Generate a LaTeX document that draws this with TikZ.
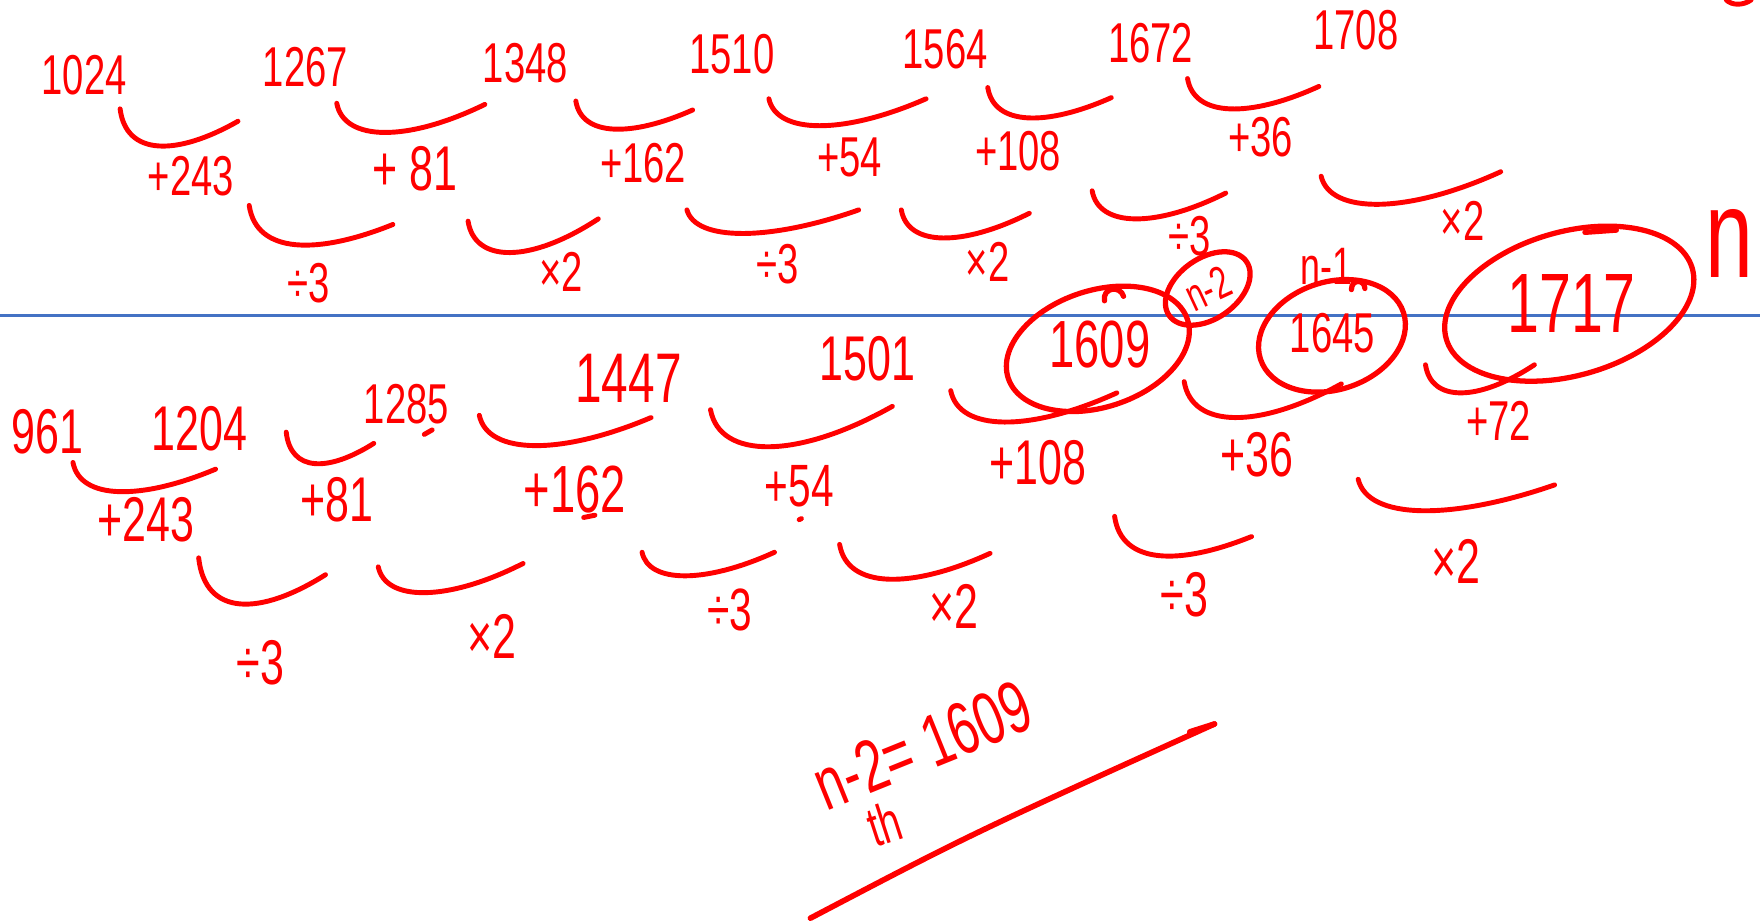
\documentclass[tikz,border=0pt]{standalone}
\usepackage{fontspec}
\usepackage{xcolor}
\usetikzlibrary{positioning}
\newfontfamily\hand[FakeStretch=0.68]{Liberation Sans}
\definecolor{pen}{HTML}{FF0000}
\definecolor{ruleblue}{HTML}{4472C4}
\tikzset{
  stroke/.style={draw=pen,line width=1.4pt,line cap=round,line join=round},
  num/.style={text=pen,inner sep=0pt,font=\hand\fontsize{#1}{#1}\selectfont},
  num/.default=16,
  ring/.style={stroke,line width=1.5pt},
  baseline rule/.style={draw=ruleblue,line width=0.7pt}
}
% one hand-drawn cup: x1 y1 x2 y2 lowest-y
\newcommand\swoop[5]{%
  \pgfmathsetmacro\cupy{#5+(#5-(#2+#4)/2)/3}%
  \pgfmathsetmacro\cupa{#1+0.05*(#3-#1)}%
  \pgfmathsetmacro\cupb{#1+0.48*(#3-#1)}%
  \draw[stroke] (#1,#2) .. controls (\cupa,\cupy) and (\cupb,\cupy) .. (#3,#4);}

\begin{document}
\begin{tikzpicture}[x=0.011224cm,y=-0.011224cm]
    \path[use as bounding box] (0,0) rectangle (1568,821);
    \draw[baseline rule] (0,281) -- (1568,281);

    % upper sequence
    \node[num] (u1024) at (75,67) {1024};
    \node[num] (u1267) at (272,60) {1267};
    \node[num] (u1348) at (468,56) {1348};
    \node[num] (u1510) at (652,48) {1510};
    \node[num] (u1564) at (842,44) {1564};
    \node[num] (u1672) at (1025,38) {1672};
    \node[num] (u1708) at (1208,27) {1708};
    \swoop{107}{97}{212}{108}{130}
    \swoop{300}{92}{432}{93}{118}
    \swoop{513}{90}{617}{98}{115}
    \swoop{685}{88}{825}{88}{112}
    \swoop{880}{78}{990}{87}{105}
    \swoop{1058}{70}{1175}{77}{97}
    \node[num] (ud1) at (170,157) {+243};
    \node[num=18] (ud2) at (370,150) {+ 81};
    \node[num] (ud3) at (573,145) {+162};
    \node[num] (ud4) at (757,140) {+54};
    \node[num] (ud5) at (907,135) {+108};
    \node[num] (ud6) at (1123,122) {+36};
    \swoop{222}{183}{350}{200}{218}
    \swoop{417}{197}{533}{195}{225}
    \swoop{612}{187}{765}{187}{208}
    \swoop{803}{187}{917}{190}{212}
    \swoop{973}{170}{1092}{172}{195}
    \swoop{1177}{157}{1337}{153}{182}
    \node[num] (uo1) at (275,252) {÷3};
    \node[num] (uo2) at (500,242) {×2};
    \node[num] (uo3) at (693,235) {÷3};
    \node[num] (uo4) at (880,233) {×2};
    \node[num] (uo5) at (1060,210) {÷3};
    \node[num] (uo6) at (1303,197) {×2};

    % lower sequence
    \node[num=18] (l961) at (42,385) {961};
    \node[num=18] (l1204) at (178,382) {1204};
    \node[num] (l1285) at (362,360) {1285};
    \node[num=20] (l1447) at (560,337) {1447};
    \node[num=18] (l1501) at (773,320) {1501};
    \node[num=19] (l1609) at (980,307) {1609};
    \node[num] (l1645) at (1187,297) {1645};
    \node[num=24] (l1717) at (1400,270) {1717};
    \draw[stroke] (378,387) -- (385,383);
    \draw[stroke] (520,461) -- (530,459);
    \draw[stroke] (712,463) -- (714,462);
    \swoop{65}{412}{192}{418}{438}
    \swoop{255}{385}{333}{395}{413}
    \swoop{427}{370}{580}{372}{397}
    \swoop{633}{365}{795}{362}{398}
    \swoop{847}{348}{995}{350}{376}
    \swoop{1055}{340}{1195}{342}{372}
    \swoop{1270}{325}{1367}{325}{350}
    \node[num=18] (ld1) at (130,463) {+243};
    \node[num=18] (ld2) at (300,445) {+81};
    \node[num=19] (ld3) at (512,436) {+162};
    \node[num=17] (ld4) at (712,433) {+54};
    \node[num=18] (ld5) at (925,412) {+108};
    \node[num=18] (ld6) at (1120,405) {+36};
    \node[num] (ld7) at (1335,375) {+72};
    \swoop{177}{497}{290}{512}{538}
    \swoop{337}{505}{466}{502}{528}
    \swoop{572}{492}{690}{492}{513}
    \swoop{748}{485}{882}{493}{516}
    \swoop{993}{460}{1115}{478}{495}
    \swoop{1210}{427}{1385}{432}{455}
    \node[num=18] (lo1) at (232,590) {÷3};
    \node[num=18] (lo2) at (438,567) {×2};
    \node[num=17] (lo3) at (650,543) {÷3};
    \node[num=18] (lo4) at (850,540) {×2};
    \node[num=18] (lo5) at (1055,530) {÷3};
    \node[num=18] (lo6) at (1297,500) {×2};

    % ringed terms
    \draw[ring,rotate around={18:(l1609)}] (977,310) ellipse [x radius=84, y radius=52];
    \draw[ring] (984,268) .. controls (982,256) and (998,254) .. (1001,264);
    \draw[ring,rotate around={18:(l1645)}] (1186,299) ellipse [x radius=67, y radius=48];
    \draw[ring] (1204,258) .. controls (1204,248) and (1216,249) .. (1216,257);
    \draw[ring,rotate around={16:(l1717)}] (1398,270) ellipse [x radius=114, y radius=64];
    \draw[ring] (1412,207) -- (1440,205);
    \node[num=13,rotate=25] (nm2) at (1076,257) {n-2};
    \draw[ring,rotate around={35:(nm2)}] (1076,257) ellipse [x radius=42, y radius=27];
    \node[num=15] (nm1) at (1182,237) {n-1};
    \node[num=36] (nn) at (1541,217) {n};
    \draw[stroke] (1538,0) .. controls (1543,5) and (1553,5) .. (1560,0);

    % conclusion
    \node[num=21,rotate=22] (result) at (822,664) {n-2= 1609};
    \node[num=16,rotate=18] (th) at (788,734) {th};
    \coordinate (tail) at (722,818);
    \coordinate (tip) at (1082,645);
    \draw[stroke,line width=1.6pt] (tail) .. controls (865,743) .. (tip);
    \draw[stroke,line width=1.6pt] (1060,652) -- (tip);
  \end{tikzpicture}
\end{document}
